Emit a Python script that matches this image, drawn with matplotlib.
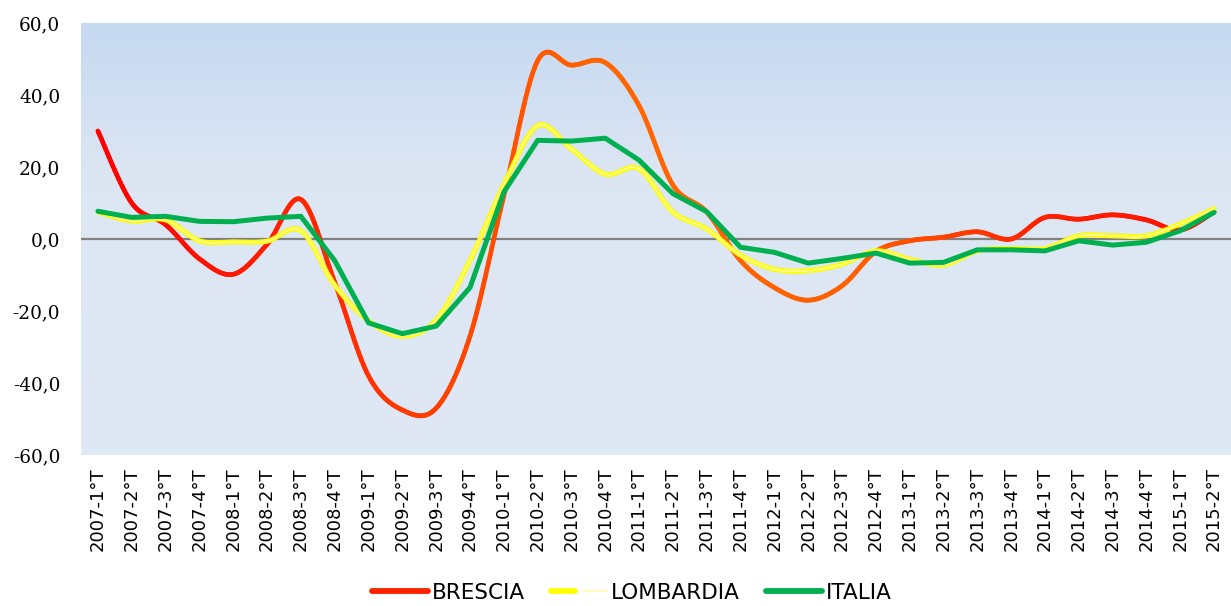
import numpy as np
import matplotlib
matplotlib.use("Agg")
import matplotlib.pyplot as plt
from matplotlib.collections import LineCollection
from matplotlib.lines import Line2D
from matplotlib.legend_handler import HandlerTuple
from matplotlib.colors import LinearSegmentedColormap

# ---------------- data ----------------
quarters = [f"{y}-{q}°T" for y in range(2007, 2016) for q in range(1, 5)][:34]

brescia = [30.0, 10.0, 4.0, -5.5, -9.8, -1.5, 11.0, -12.0, -38.0, -47.5,
           -47.0, -27.0, 12.0, 49.5, 48.3, 49.0, 37.0, 15.0, 7.5, -6.0,
           -13.5, -17.0, -13.0, -3.5, -0.5, 0.5, 2.0, 0.0, 6.0, 5.5,
           6.7, 5.3, 2.5, 7.5]
lombardia = [7.5, 5.0, 5.3, -0.5, -0.8, -0.6, 2.3, -12.8, -22.7, -27.0,
             -22.5, -6.0, 15.0, 31.5, 25.0, 18.0, 19.5, 7.5, 2.8, -4.5,
             -8.4, -8.8, -7.0, -3.3, -5.6, -7.2, -3.3, -2.6, -2.6, 0.9,
             0.9, 0.9, 4.2, 8.4]
italia = [7.7, 6.0, 6.3, 4.9, 4.8, 5.8, 6.3, -6.0, -23.3, -26.3,
          -24.2, -13.5, 13.0, 27.4, 27.2, 28.0, 21.9, 12.6, 7.6, -2.3,
          -3.7, -6.7, -5.4, -3.9, -6.7, -6.5, -3.0, -3.0, -3.3, -0.5,
          -1.7, -0.9, 2.3, 7.4]
yticks = [-60, -40, -20, 0, 20, 40, 60]
series_names = ["BRESCIA", "LOMBARDIA", "ITALIA"]


def smooth(x, y, n=20):
    """Catmull-Rom style smoothing (as in spreadsheet 'smoothed line')."""
    x = np.asarray(x, float)
    y = np.asarray(y, float)
    px = np.concatenate([[x[0]], x, [x[-1]]])
    py = np.concatenate([[y[0]], y, [y[-1]]])
    xs, ys = [], []
    for i in range(1, len(px) - 2):
        p0 = np.array([px[i - 1], py[i - 1]])
        p1 = np.array([px[i], py[i]])
        p2 = np.array([px[i + 1], py[i + 1]])
        p3 = np.array([px[i + 2], py[i + 2]])
        c1 = p1 + (p2 - p0) / 6.0
        c2 = p2 - (p3 - p1) / 6.0
        t = np.linspace(0, 1, n, endpoint=(i == len(px) - 3))[:, None]
        pts = ((1 - t) ** 3) * p1 + 3 * ((1 - t) ** 2) * t * c1 + 3 * (1 - t) * t ** 2 * c2 + t ** 3 * p2
        xs.append(pts[:, 0])
        ys.append(pts[:, 1])
    return np.concatenate(xs), np.concatenate(ys)


fig = plt.figure(figsize=(12.31, 6.06), dpi=100)
ax = fig.add_axes([81 / 1231, 1 - 455 / 606, (1231 - 81) / 1231, (455 - 23) / 606])

x = np.arange(len(quarters))
ax.set_xlim(-0.5, len(quarters) - 0.5)
ax.set_ylim(-60, 60)

# background gradient
bg = LinearSegmentedColormap.from_list(
    "bg", [(0.0, (0.878, 0.910, 0.961)), (0.65, (0.866, 0.902, 0.953)),
           (1.0, (0.776, 0.851, 0.945))])
grad = np.linspace(0, 1, 256)[:, None]
ax.imshow(grad, extent=(-0.5, len(quarters) - 0.5, -60, 60), origin="lower",
          aspect="auto", cmap=bg, zorder=0)

ax.axhline(0, color="#808080", lw=1.6, zorder=1)

# BRESCIA: smoothed line with red-orange gradient
bx, by = smooth(x, brescia)
pts = np.column_stack([bx, by]).reshape(-1, 1, 2)
segs = np.concatenate([pts[:-1], pts[1:]], axis=1)
redmap = LinearSegmentedColormap.from_list(
    "redgrad", [(0.0, "#FF0000"), (0.25, "#FF3300"), (0.45, "#FF6600"),
                (0.68, "#FF6000"), (0.85, "#FF2000"), (1.0, "#FF1000")])
lc = LineCollection(segs, colors=redmap(bx[:-1] / bx.max()), linewidths=3.4,
                    capstyle="round", joinstyle="round", zorder=3)
ax.add_collection(lc)

# LOMBARDIA: smoothed double yellow line
lx, ly = smooth(x, lombardia)
ax.plot(lx, ly, color="#FFFF00", lw=3.6, solid_capstyle="round", zorder=4)
ax.plot(lx, ly, color="#FFFFB0", lw=1.0, solid_capstyle="round", zorder=4)

# ITALIA: straight segments
ax.plot(x, italia, color="#00B050", lw=3.6, solid_capstyle="round",
        solid_joinstyle="round", zorder=5)

for s in ax.spines.values():
    s.set_visible(False)

ax.set_yticks(yticks)
ax.set_yticklabels([f"{v:.1f}".replace(".", ",") for v in yticks],
                   family="DejaVu Serif", fontsize=13.3)
ax.set_xticks(x)
ax.set_xticklabels(quarters, rotation=90, family="DejaVu Sans", fontsize=13)
ax.tick_params(axis="y", length=0, pad=15)
ax.tick_params(axis="x", length=0, pad=9)

h_red = Line2D([], [], color="#FF2000", lw=4.2, solid_capstyle="round")
h_y1 = Line2D([], [], color="#FFFF00", lw=4.2, solid_capstyle="round")
h_y2 = Line2D([], [], color="#FFFFB0", lw=1.2, solid_capstyle="round")
h_g = Line2D([], [], color="#00B050", lw=4.2, solid_capstyle="round")
fig.legend([h_red, (h_y1, h_y2), h_g], series_names,
           handler_map={tuple: HandlerTuple(ndivide=None)},
           loc="center", bbox_to_anchor=(632 / 1231, 1 - 593 / 606), ncol=3,
           frameon=False, prop={"family": "DejaVu Sans", "size": 15.5},
           handlelength=2.6, handletextpad=0.2, columnspacing=1.2)

fig.savefig("out.png", dpi=100)
